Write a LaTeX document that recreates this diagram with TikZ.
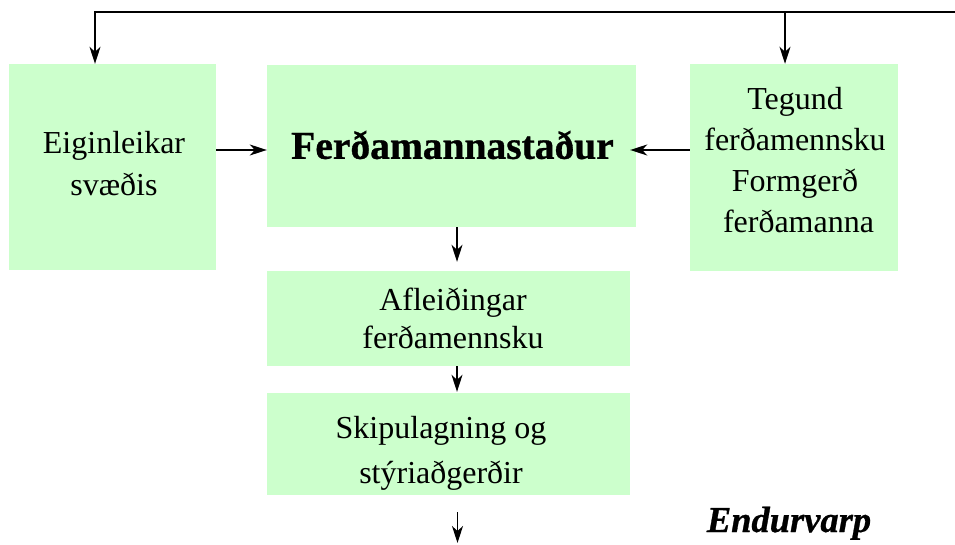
\documentclass[tikz,border=0pt]{standalone}
\usepackage{fontspec}
\setmainfont{Liberation Serif}
\newfontfamily\heavyserif{Liberation Serif}[BoldFeatures={FakeBold=0.8},BoldItalicFeatures={FakeBold=0.8}]
\usetikzlibrary{arrows.meta,calc}
\definecolor{boxgreen}{RGB}{204,255,204}
\tikzset{
  box/.style={fill=boxgreen, draw=none, inner sep=0pt, anchor=center},
  txt/.style={align=center, inner sep=0pt, anchor=center, text=black},
  arr/.style={line width=1.3pt, -{Stealth[length=17pt,width=11pt,inset=5pt]}}
}
\begin{document}
\begin{tikzpicture}[x=1pt,y=-1pt]
\useasboundingbox (0,0) rectangle (955,545);

% green boxes
\node[box, minimum width=207pt, minimum height=206pt] (left)  at (112.5,167) {};
\node[box, minimum width=369pt, minimum height=162pt] (main)  at (451.5,146) {};
\node[box, minimum width=208pt, minimum height=207pt] (right) at (794,167.5) {};
\node[box, minimum width=363pt, minimum height=95pt]  (afl)   at (448.5,318.5) {};
\node[box, minimum width=363pt, minimum height=102pt] (skip)  at (448.5,444) {};

% box texts
\node[txt, font=\fontsize{32}{42}\selectfont] (leftT) at (114,164) {Eiginleikar\\svæðis};
\node[txt, font=\fontsize{39.5}{44}\selectfont\heavyserif\bfseries] (mainT) at (452.5,145) {Ferðamannastaður};
\node[txt, font=\fontsize{32}{41}\selectfont] (rightT) at (795,160.5)
  {Tegund\\ferðamennsku\\Formgerð\\\hspace*{7pt}ferðamanna};
\node[txt, font=\fontsize{32}{38}\selectfont] (aflT) at (453,318) {Afleiðingar\\ferðamennsku};
\node[txt, font=\fontsize{32}{45}\selectfont] (skipT) at (441,453) {Skipulagning og\\stýriaðgerðir};

% feedback label
\node[anchor=base, inner sep=0pt, font=\fontsize{36.5}{40}\selectfont\heavyserif\bfseries\itshape] (endur) at (789,532) {Endurvarp};

% feedback loop along the top
\coordinate (fbR) at (955,12);
\coordinate (fbL) at ($(left.north)+(-17.5,0)$);
\coordinate (fbM) at ($(right.north)+(-9,0)$);
\draw[arr] (fbR) -| (fbL);
\draw[arr] (fbM |- fbR) -- (fbM);

% side inputs
\draw[arr] ($(left.east)+(0,-17)$) -- ($(left.east -| main.west)+(0,-17)$);
\draw[arr] ($(right.west)+(0,-17.5)$) -- ($(right.west -| main.east)+(-6,-17.5)$);

% main chain
\draw[arr] ($(main.south)+(5.5,0)$) -- ($(main.south |- afl.north)+(5.5,-9)$);
\draw[arr] ($(afl.south)+(8.5,0)$) -- ($(afl.south |- skip.north)+(8.5,-1)$);
\coordinate (out) at (457.5,543);
\draw[arr] ($(skip.south)+(9,17)$) -- (out);
\end{tikzpicture}
\end{document}
